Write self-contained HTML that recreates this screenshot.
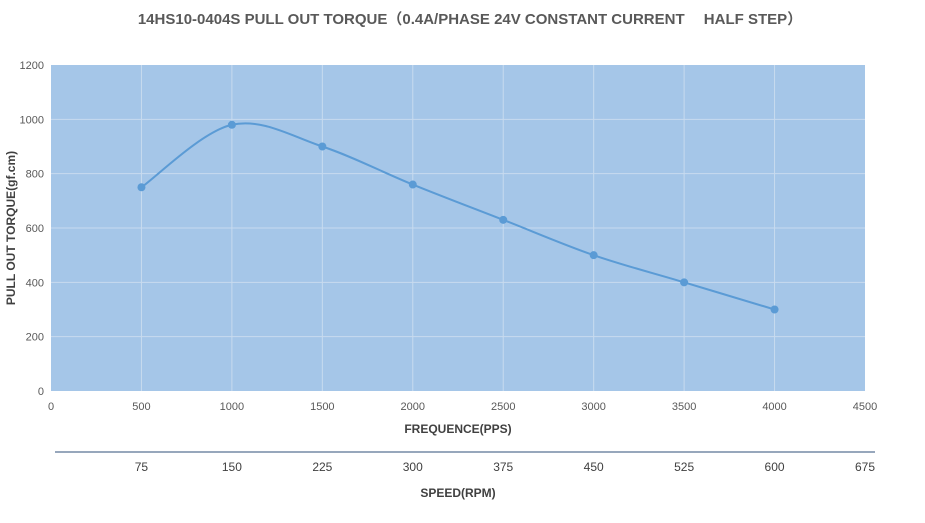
<!DOCTYPE html>
<html><head><meta charset="utf-8"><style>
body{margin:0;background:#fff;font-family:"Liberation Sans","Noto Sans CJK SC",sans-serif;}
svg{display:block}
</style></head><body>
<svg id="c" width="925" height="523">
<text x="470" y="24" text-anchor="middle" font-size="15" font-weight="bold" fill="#595959">14HS10-0404S PULL OUT TORQUE（0.4A/PHASE 24V CONSTANT CURRENT　 HALF STEP）</text>
<rect x="51" y="65" width="814" height="326" fill="#a5c6e8"/>
<g id="grid"></g><g id="ticks"></g>
<text x="458" y="433" text-anchor="middle" font-size="12" font-weight="bold" fill="#404040">FREQUENCE(PPS)</text>
<text transform="translate(15,228) rotate(-90)" text-anchor="middle" font-size="12" font-weight="bold" fill="#404040">PULL OUT TORQUE(gf.cm)</text>
<line x1="55" y1="452" x2="875" y2="452" stroke="#2f4f7a" stroke-width="1"/>
<g id="rpm"></g>
<text x="458" y="497" text-anchor="middle" font-size="12" font-weight="bold" fill="#404040">SPEED(RPM)</text>
<path id="line" fill="none" stroke="#5b9bd5" stroke-width="2"/>
<g id="pts"></g>
</svg>
<script>
const freq=[500,1000,1500,2000,2500,3000,3500,4000];
const torque=[750,980,900,760,630,500,400,300];
const xTicks=[0,500,1000,1500,2000,2500,3000,3500,4000,4500];
const yTicks=[0,200,400,600,800,1000,1200];
const rpmLabels=["75","150","225","300","375","450","525","600","675"];
const X=v=>51+v/4500*814, Y=v=>391-v/1200*326;
const NS="http://www.w3.org/2000/svg";
function mk(t,a,p,txt){const e=document.createElementNS(NS,t);for(const k in a)e.setAttribute(k,a[k]);if(txt!=null)e.textContent=txt;p.appendChild(e);return e;}
const g=document.getElementById('grid'),tk=document.getElementById('ticks');
xTicks.forEach(v=>{if(v>0&&v<4500){const l=mk('line',{x1:X(v),x2:X(v),y1:65,y2:391,stroke:'#c8dbef'},g);}
const t=mk('text',{x:X(v),y:410,'text-anchor':'middle','font-size':11,fill:'#595959'},tk,v);});
yTicks.forEach(v=>{if(v>0&&v<1200){const l=mk('line',{x1:51,x2:865,y1:Y(v),y2:Y(v),stroke:'#c8dbef'},g);}
const t=mk('text',{x:44,y:Y(v)+4,'text-anchor':'end','font-size':11,fill:'#595959'},tk,v);});
const r=document.getElementById('rpm');
rpmLabels.forEach((s,i)=>{const t=mk('text',{x:X((i+1)*500),y:471,'text-anchor':'middle','font-size':12,fill:'#404040'},r,s);});
const P=freq.map((f,i)=>[X(f),Y(torque[i])]);
let d='M'+P[0];
for(let i=0;i<P.length-1;i++){const p0=P[i-1]||P[i],p1=P[i],p2=P[i+1],p3=P[i+2]||p2,k=1/6;
d+=` C${p1[0]+(p2[0]-p0[0])*k},${p1[1]+(p2[1]-p0[1])*k} ${p2[0]-(p3[0]-p1[0])*k},${p2[1]-(p3[1]-p1[1])*k} ${p2[0]},${p2[1]}`;}
document.getElementById('line').setAttribute('d',d);
const pg=document.getElementById('pts');
P.forEach(p=>{const c=mk('circle',{cx:p[0],cy:p[1],r:4,fill:'#5b9bd5'},pg);});
</script>
</body></html>
